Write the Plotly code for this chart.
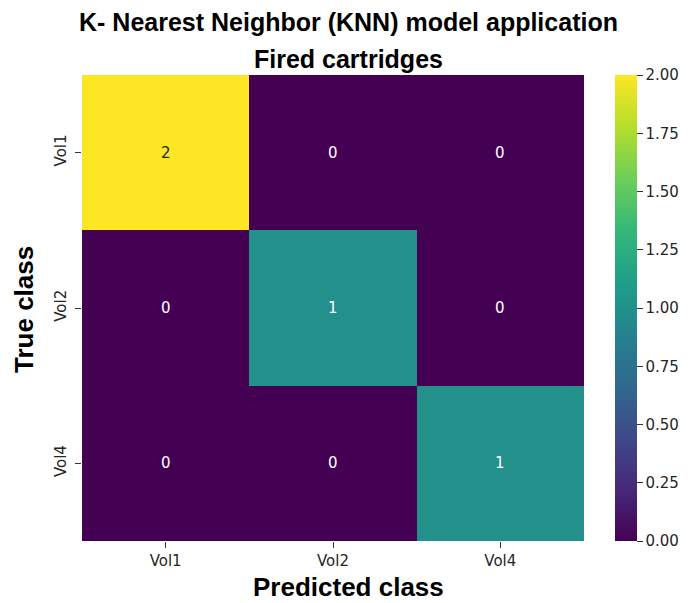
import plotly.graph_objects as go

classes = ["Vol1", "Vol2", "Vol4"]
matrix = [[2, 0, 0],
          [0, 1, 0],
          [0, 0, 1]]
cbar_ticks = [0.0, 0.25, 0.5, 0.75, 1.0, 1.25, 1.5, 1.75, 2.0]

W, H = 693, 603
L, R, T, B = 82, 584, 75, 541


def py(pix):
    return (B - pix) / (B - T)


def px(pix):
    return (pix - L) / (R - L)


TICKFONT = dict(family="DejaVu Sans", size=15, color="#262626")

fig = go.Figure(go.Heatmap(
    z=matrix, x=classes, y=classes, colorscale="Viridis", zmin=0, zmax=2,
    xgap=0, ygap=0,
    colorbar=dict(
        x=px(615), xanchor="left", xref="paper", xpad=0, ypad=0,
        y=0.5, yanchor="middle", len=1, lenmode="fraction",
        thickness=22, thicknessmode="pixels", outlinewidth=0,
        tickvals=cbar_ticks, ticktext=[f"{v:.2f}" for v in cbar_ticks],
        ticks="outside", ticklen=6, tickcolor="#333", tickwidth=1,
        tickfont=TICKFONT,
    ),
    hoverinfo="skip",
))

zmax = max(max(r) for r in matrix)
for i, yc in enumerate(classes):
    for j, xc in enumerate(classes):
        v = matrix[i][j]
        col = "#262626" if v / zmax > 0.6 else "white"
        fig.add_annotation(x=xc, y=yc, xref="x", yref="y", text=str(v),
                           showarrow=False,
                           font=dict(family="DejaVu Sans", size=15, color=col))

CX = px(348)
TITLEFONT = dict(family="Liberation Sans", size=25, color="black")
fig.add_annotation(x=CX, y=py(22), xref="paper", yref="paper",
                   text="<b>K- Nearest Neighbor (KNN) model application</b>",
                   showarrow=False, yanchor="middle", font=TITLEFONT)
fig.add_annotation(x=CX, y=py(59), xref="paper", yref="paper",
                   text="<b>Fired cartridges</b>",
                   showarrow=False, yanchor="middle", font=TITLEFONT)

LABELFONT = dict(family="Liberation Sans", size=26, color="black")
fig.add_annotation(x=CX, y=py(587), xref="paper", yref="paper",
                   text="<b>Predicted class</b>",
                   showarrow=False, yanchor="middle", font=LABELFONT)
fig.add_annotation(x=px(24), y=py(310), xref="paper", yref="paper",
                   text="<b>True class</b>", textangle=-90,
                   showarrow=False, xanchor="center", yanchor="middle",
                   font=LABELFONT)

fig.update_layout(
    width=W, height=H,
    margin=dict(l=L, r=W - R, t=T, b=H - B, pad=0, autoexpand=False),
    paper_bgcolor="white", plot_bgcolor="white",
    xaxis=dict(
        showgrid=False, zeroline=False, showline=False,
        ticks="outside", ticklen=6, tickcolor="#333", tickwidth=1,
        tickfont=TICKFONT,
    ),
    yaxis=dict(
        autorange="reversed",
        showgrid=False, zeroline=False, showline=False,
        ticks="outside", ticklen=6, tickcolor="#333", tickwidth=1,
        tickangle=-90, ticklabelstandoff=3,
        tickfont=TICKFONT,
    ),
)

fig.write_html("out.html")
